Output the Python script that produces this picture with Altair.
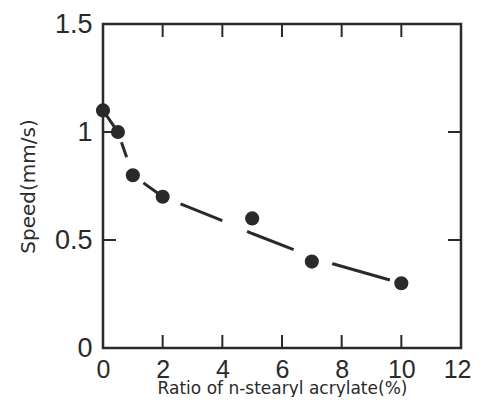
import altair as alt
import pandas as pd

# measured points
ratio = [0, 0.5, 1, 2, 5, 7, 10]
speed = [1.1, 1.0, 0.8, 0.7, 0.6, 0.4, 0.3]
# dashed trend curve
fit_ratio = [0, 0.5, 1, 2, 4, 5, 6.5, 7.7, 10]
fit_speed = [1.1, 1.0, 0.8, 0.7, 0.59, 0.53, 0.45, 0.39, 0.3]
# axis ticks / labels
x_labels = [0, 2, 4, 6, 8, 10, 12]
y_labels = [0, 0.5, 1, 1.5]
x_ticks = [2, 4, 6, 8, 10]
y_ticks = [0.5, 1.0]

W, H = 358, 324
INK = "#2a2a2a"
LFONT = "Liberation Sans"
TFONT = "DejaVu Sans"
TL = 13

pts = pd.DataFrame({"ratio": ratio, "speed": speed})
fit = pd.DataFrame({"ratio": fit_ratio, "speed": fit_speed})
xt = pd.DataFrame({"t": x_ticks})
yt = pd.DataFrame({"t": y_ticks})

xs = alt.Scale(domain=[0, 12], nice=False, zero=False)
ys = alt.Scale(domain=[0, 1.5], nice=False)

xaxis = alt.Axis(values=x_labels, ticks=False, domain=False, grid=False,
                 labelFontSize=25, labelFont=LFONT, labelColor=INK, labelPadding=9,
                 labelAlign=alt.condition("datum.value == 12", alt.value("right"), alt.value("center")),
                 labelOffset=alt.condition("datum.value == 12", alt.value(10), alt.value(0)),
                 title="Ratio of n-stearyl acrylate(%)", titleFontSize=17,
                 titleFont=TFONT, titleFontWeight="normal", titleColor=INK,
                 titleBaseline="alphabetic", titleY=45, labelFlush=False)
yaxis = alt.Axis(values=y_labels, ticks=False, domain=False, grid=False, format="~g",
                 labelFontSize=27, labelFont=LFONT, labelColor=INK, labelPadding=11,
                 title="Speed(mm/s)", titleFontSize=20, titleFont=TFONT,
                 titleFontWeight="normal", titleColor=INK, titlePadding=16,
                 labelFlush=False)

X = lambda f: alt.X(f, type="quantitative", scale=xs, axis=xaxis)
Y = lambda f: alt.Y(f, type="quantitative", scale=ys, axis=yaxis)

line = alt.Chart(fit).mark_line(
    color=INK, strokeWidth=3,
    strokeDash=[20, 17, 16, 32, 20, 23, 45, 27, 50, 41, 60, 20],
).encode(x=X("ratio"), y=Y("speed"))

dots = alt.Chart(pts).mark_circle(size=200, color=INK, opacity=1).encode(
    x=X("ratio"), y=Y("speed"))

top = alt.Chart(xt).mark_rule(color=INK, strokeWidth=2).encode(
    x=X("t"), y=alt.value(0), y2=alt.value(TL))
bottom = alt.Chart(xt).mark_rule(color=INK, strokeWidth=2).encode(
    x=X("t"), y=alt.value(H - TL), y2=alt.value(H))
left = alt.Chart(yt).mark_rule(color=INK, strokeWidth=2).encode(
    y=Y("t"), x=alt.value(0), x2=alt.value(TL))
right = alt.Chart(yt).mark_rule(color=INK, strokeWidth=2).encode(
    y=Y("t"), x=alt.value(W - TL), x2=alt.value(W))

chart = alt.layer(top, bottom, left, right, line, dots).properties(
    width=W, height=H,
    autosize=alt.AutoSizeParams(type="none"),
    padding={"left": 95, "top": 16, "right": 10, "bottom": 49},
    background="white",
).configure_view(stroke=INK, strokeWidth=2.5)

chart.save("out.html", embed_options={"renderer": "svg", "actions": False})
